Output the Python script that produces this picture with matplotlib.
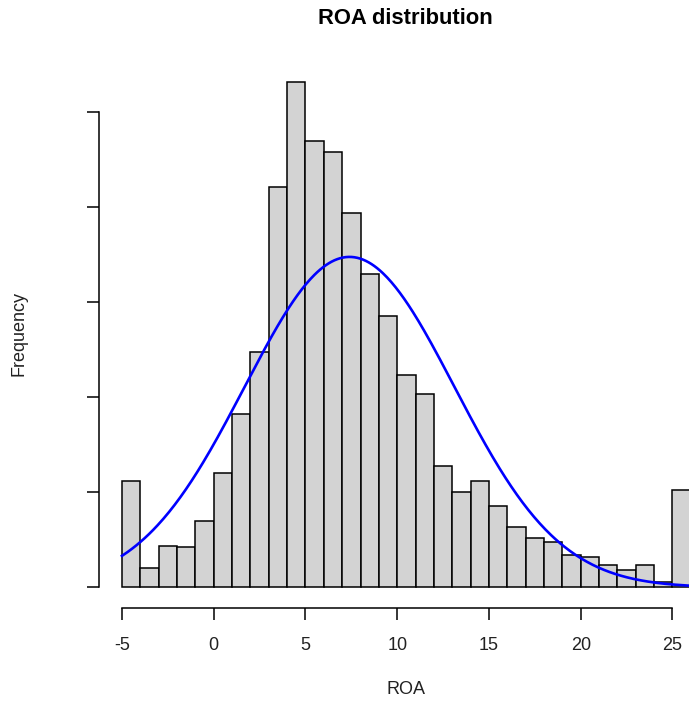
import numpy as np
import matplotlib
matplotlib.use("Agg")
from matplotlib import pyplot as plt

plt.rcParams['font.family'] = ['Liberation Sans', 'DejaVu Sans']

# histogram bins (left edges, width 1) and counts
bin_left = list(range(-5, 26))
counts = [56, 10, 22, 21, 35, 60, 91, 124, 211, 266, 235, 229, 197, 165, 143,
          112, 102, 64, 50, 56, 43, 32, 26, 24, 17, 16, 12, 9, 12, 3, 51]
roa_mean = 7.4
roa_sd = 5.72
yticks = [0, 50, 100, 150, 200, 250]
xticks = [-5, 0, 5, 10, 15, 20, 25]

W, H = 689, 704
fig = plt.figure(figsize=(W / 100, H / 100), dpi=100)
# plot region runs past the right edge (picture is cropped there)
left, right, bottom, top = 99.2, 713.6, 607.6, 61.8
ax = fig.add_axes([left / W, 1 - bottom / H, (right - left) / W, (bottom - top) / H])

ax.bar(bin_left, counts, width=1, align='edge', color='#d3d3d3',
       edgecolor='black', linewidth=1.1)

# normal curve scaled to the counts
n = sum(counts)
xs = np.linspace(-5, 26, 400)
ys = n * np.exp(-(xs - roa_mean) ** 2 / (2 * roa_sd ** 2)) / (roa_sd * np.sqrt(2 * np.pi))
ax.plot(xs, ys, color='blue', linewidth=1.9)

lo, hi = -5, 26
ax.set_xlim(lo - 0.04 * (hi - lo), hi + 0.04 * (hi - lo))
ymax = max(counts)
ax.set_ylim(-0.04 * ymax, 1.04 * ymax)

for s in ['top', 'right']:
    ax.spines[s].set_visible(False)
ax.spines['left'].set_bounds(yticks[0], yticks[-1])
ax.spines['bottom'].set_bounds(xticks[0], xticks[-1])
for s in ['left', 'bottom']:
    ax.spines[s].set_linewidth(1.1)

ax.set_xticks(xticks)
ax.set_xticklabels([str(v) for v in xticks])
ax.set_yticks(yticks)
ax.set_yticklabels([])
ax.tick_params(direction='out', length=8.6, width=1.1, labelsize=13, pad=12.5,
               labelcolor='#222222')

fig.text(405 / W, 1 - 19 / H, 'ROA distribution', ha='center', va='center',
         fontsize=15.8, fontweight='bold')
fig.text(406 / W, 1 - 690 / H, 'ROA', ha='center', va='center', fontsize=13,
         color='#222222')
fig.text(19 / W, 1 - 333 / H, 'Frequency', ha='center', va='center',
         fontsize=13, rotation=90, color='#222222')

fig.savefig('out.png', dpi=100)
